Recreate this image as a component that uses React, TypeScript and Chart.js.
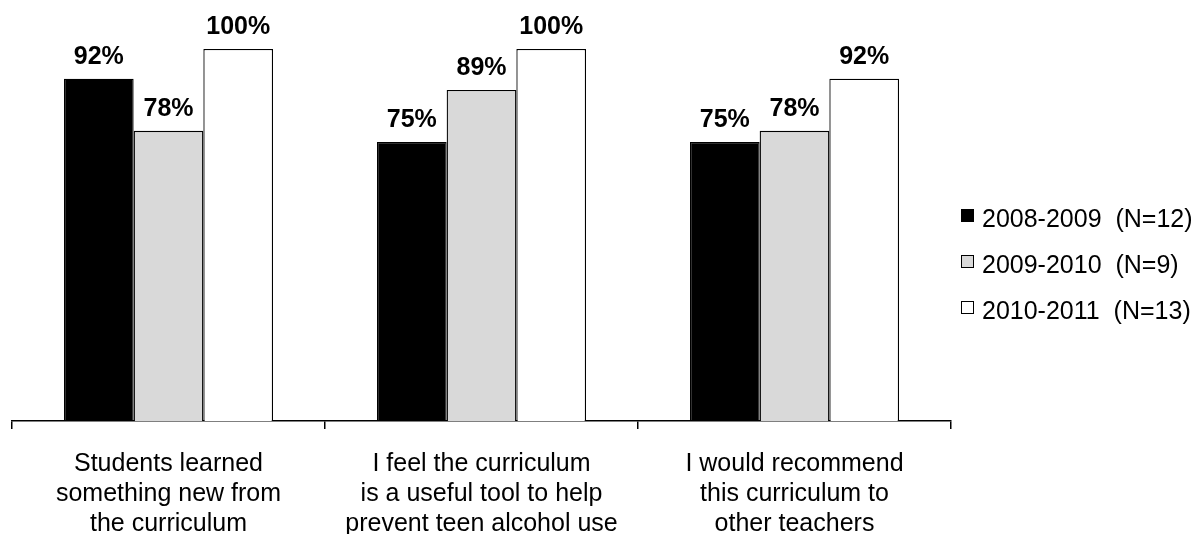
import React, { useEffect, useRef } from "react";
import { Chart, registerables } from "chart.js";

Chart.register(...registerables);

// Category labels (one array entry per line)
const categories: string[][] = [
  ["Students learned", "something new from", "the curriculum"],
  ["I feel the curriculum", "is a useful tool to help", "prevent teen alcohol use"],
  ["I would recommend", "this curriculum to", "other teachers"],
];

const seriesNames = ["2008-2009  (N=12)", "2009-2010  (N=9)", "2010-2011  (N=13)"];

// Percent agreeing, per school year
const values2008 = [92, 75, 75];
const values2009 = [78, 89, 78];
const values2010 = [100, 100, 92];

const seriesColors = ["#000000", "#d9d9d9", "#ffffff"];

const FONT = "'Liberation Sans', Arial, Helvetica, sans-serif";

// Bold percentage labels above each bar
const valueLabels = {
  id: "valueLabels",
  afterDatasetsDraw(chart: any) {
    const ctx = chart.ctx;
    ctx.save();
    ctx.fillStyle = "#000";
    ctx.font = `bold 25px ${FONT}`;
    ctx.textAlign = "center";
    ctx.textBaseline = "alphabetic";
    chart.data.datasets.forEach((ds: any, i: number) => {
      const meta = chart.getDatasetMeta(i);
      meta.data.forEach((el: any, j: number) => {
        ctx.fillText(`${ds.data[j]}%`, el.x, el.y - 15);
      });
    });
    ctx.restore();
  },
};

// Legend drawn at the right of the plot
const sideLegend = {
  id: "sideLegend",
  afterDraw(chart: any) {
    const ctx = chart.ctx;
    const x0 = chart.chartArea.right + 10;
    const firstTop = 209;
    const step = 46;
    ctx.save();
    ctx.font = `25px ${FONT}`;
    ctx.textAlign = "left";
    ctx.textBaseline = "alphabetic";
    chart.data.datasets.forEach((ds: any, i: number) => {
      const top = firstTop + i * step;
      ctx.fillStyle = ds.backgroundColor;
      ctx.fillRect(x0, top, 13, 13);
      ctx.strokeStyle = "#000";
      ctx.lineWidth = 1;
      ctx.strokeRect(x0 + 0.5, top + 0.5, 12, 12);
      ctx.fillStyle = "#000";
      ctx.fillText(ds.label, x0 + 21, top + 18);
    });
    ctx.restore();
  },
};

export default function App() {
  const canvasRef = useRef<HTMLCanvasElement | null>(null);

  useEffect(() => {
    if (!canvasRef.current) return;
    const seriesValues = [values2008, values2009, values2010];
    const chart = new Chart(canvasRef.current, {
      type: "bar",
      data: {
        labels: categories,
        datasets: seriesValues.map((vals, i) => ({
          label: seriesNames[i],
          data: vals,
          backgroundColor: seriesColors[i],
          borderColor: "#000000",
          borderWidth: 1.3,
          categoryPercentage: 0.668,
          barPercentage: 1.0,
        })),
      },
      options: {
        responsive: false,
        animation: false,
        layout: { padding: { left: 12, right: 251, top: 49, bottom: 0 } },
        plugins: {
          legend: { display: false },
          tooltip: { enabled: false },
        },
        scales: {
          x: {
            offset: true,
            grid: {
              offset: true,
              drawOnChartArea: false,
              drawTicks: true,
              tickLength: 8,
              color: "#000",
              lineWidth: 1.5,
            },
            border: { display: true, color: "#000", width: 1.5 },
            ticks: {
              color: "#000",
              font: { family: FONT, size: 25, lineHeight: 1.2 },
              padding: 20,
              maxRotation: 0,
              autoSkip: false,
            },
            afterFit: (scale: any) => {
              scale.height = 113;
            },
          },
          y: {
            display: false,
            min: 0,
            max: 100,
          },
        },
      },
      plugins: [valueLabels, sideLegend],
    });
    return () => chart.destroy();
  }, []);

  return (
    <div style={{ position: "fixed", left: 0, top: 0, width: 1202, height: 534, background: "#fff" }}>
      <canvas ref={canvasRef} width={1202} height={534} style={{ display: "block" }} />
    </div>
  );
}
